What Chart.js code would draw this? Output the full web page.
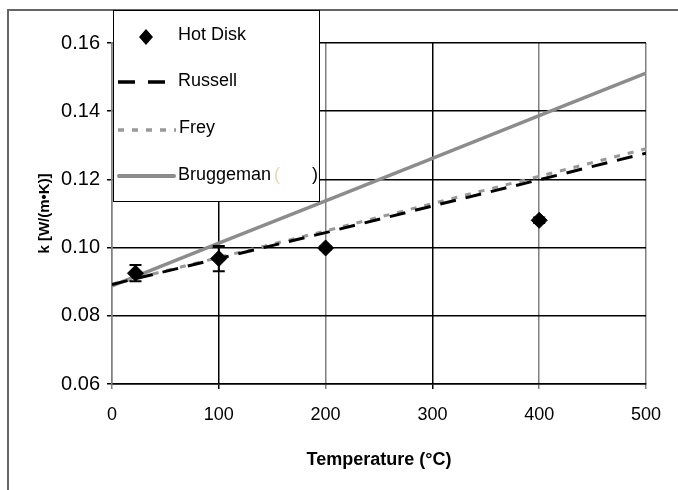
<!DOCTYPE html>
<html>
<head>
<meta charset="utf-8">
<script src="https://cdn.jsdelivr.net/npm/chart.js@4.4.1/dist/chart.umd.min.js"></script>
<style>
    html, body { margin: 0; padding: 0; background: #fff; }
    #wrap { width: 678px; height: 490px; }
</style>
</head>
<body>
<div id="wrap"><canvas id="kChart" width="678" height="490"></canvas></div>
<script>
// measured values (temperature in °C, k in W/(m·K))
const hotDiskTemp = [22, 100, 200, 400];
const hotDiskK = [0.0925, 0.0968, 0.0999, 0.1080];
const hotDiskErr = [0.0024, 0.0037, 0.0005, 0.0008];

// model curves
const modelTemp = [0, 100, 200, 300, 400, 500];
const russellK = [0.0892, 0.0968, 0.1044, 0.1122, 0.1199, 0.1277];
const freyK = [0.0893, 0.0971, 0.1049, 0.1129, 0.1209, 0.1290];
const bruggemanK = [0.0888, 0.1013, 0.1137, 0.1262, 0.1387, 0.1512];

const xTicks = [0, 100, 200, 300, 400, 500];
const yTicks = [0.06, 0.08, 0.10, 0.12, 0.14, 0.16];

function toPoints(xs, ys) {
    return xs.map((x, i) => ({ x: x, y: ys[i] }));
}

const GRAY = '#808080';
const FONT = "'Liberation Sans', Arial, sans-serif";

const framePlugin = {
    id: 'frame',
    beforeDraw(chart) {
        const ctx = chart.ctx;
        ctx.save();
        ctx.fillStyle = '#fff';
        ctx.fillRect(0, 0, chart.width, chart.height);
        ctx.strokeStyle = '#666';
        ctx.lineWidth = 2;
        ctx.beginPath();
        ctx.moveTo(chart.width, 10);
        ctx.lineTo(8, 10);
        ctx.lineTo(8, chart.height);
        ctx.stroke();
        ctx.restore();
    }
};

const errorBarPlugin = {
    id: 'errorBars',
    afterDatasetsDraw(chart) {
        const ctx = chart.ctx;
        const xs = chart.scales.x;
        const ys = chart.scales.y;
        ctx.save();
        ctx.strokeStyle = '#000';
        ctx.lineWidth = 2;
        hotDiskTemp.forEach((t, i) => {
            const px = xs.getPixelForValue(t);
            const top = ys.getPixelForValue(hotDiskK[i] + hotDiskErr[i]);
            const bot = ys.getPixelForValue(hotDiskK[i] - hotDiskErr[i]);
            ctx.beginPath();
            ctx.moveTo(px, top);
            ctx.lineTo(px, bot);
            ctx.moveTo(px - 6, top);
            ctx.lineTo(px + 6, top);
            ctx.moveTo(px - 6, bot);
            ctx.lineTo(px + 6, bot);
            ctx.stroke();
        });
        ctx.restore();
    }
};

const legendBoxPlugin = {
    id: 'legendBox',
    afterDraw(chart) {
        const ctx = chart.ctx;
        ctx.save();
        ctx.fillStyle = '#fff';
        ctx.fillRect(113, 10, 206, 192);
        ctx.strokeStyle = '#000';
        ctx.lineWidth = 1;
        ctx.strokeRect(113.5, 10.5, 206, 191);

        // Hot Disk marker
        ctx.fillStyle = '#000';
        ctx.beginPath();
        ctx.moveTo(146, 29);
        ctx.lineTo(153, 37);
        ctx.lineTo(146, 45);
        ctx.lineTo(139, 37);
        ctx.closePath();
        ctx.fill();

        ctx.lineWidth = 3.5;
        // Russell
        ctx.strokeStyle = '#000';
        ctx.setLineDash([17, 13]);
        ctx.beginPath();
        ctx.moveTo(118, 82);
        ctx.lineTo(170, 82);
        ctx.stroke();
        // Frey
        ctx.strokeStyle = '#999';
        ctx.setLineDash([6, 8]);
        ctx.beginPath();
        ctx.moveTo(118, 130);
        ctx.lineTo(176, 130);
        ctx.stroke();
        // Bruggeman
        ctx.strokeStyle = '#8c8c8c';
        ctx.lineWidth = 4;
        ctx.setLineDash([]);
        ctx.lineCap = 'round';
        ctx.beginPath();
        ctx.moveTo(119, 176);
        ctx.lineTo(174, 176);
        ctx.stroke();

        ctx.fillStyle = '#000';
        ctx.font = '18px ' + FONT;
        ctx.textBaseline = 'middle';
        ctx.textAlign = 'left';
        ctx.fillText('Hot Disk', 178, 35);
        ctx.fillText('Russell', 178, 81);
        ctx.fillText('Frey', 179, 128);
        ctx.fillText('Bruggeman', 178, 175);
        ctx.fillStyle = '#e8d8c0';
        ctx.fillText('(', 274, 175);
        ctx.fillStyle = '#000';
        ctx.fillText(')', 312, 175);
        ctx.restore();
    }
};

new Chart(document.getElementById('kChart'), {
    type: 'scatter',
    data: {
        datasets: [
            {
                label: 'Hot Disk',
                data: toPoints(hotDiskTemp, hotDiskK),
                pointStyle: 'rectRot',
                pointRadius: 8,
                backgroundColor: '#000',
                borderColor: '#000',
                showLine: false
            },
            {
                label: 'Russell',
                data: toPoints(modelTemp, russellK),
                showLine: true,
                pointRadius: 0,
                borderColor: '#000',
                borderWidth: 3,
                borderDash: [16, 10]
            },
            {
                label: 'Frey',
                data: toPoints(modelTemp, freyK),
                showLine: true,
                pointRadius: 0,
                borderColor: '#999',
                borderWidth: 3,
                borderDash: [6, 8]
            },
            {
                label: 'Bruggeman',
                data: toPoints(modelTemp, bruggemanK),
                showLine: true,
                pointRadius: 0,
                borderColor: '#8c8c8c',
                borderWidth: 3.5
            }
        ]
    },
    options: {
        responsive: false,
        animation: false,
        layout: { padding: { left: 0, top: 43, right: 32, bottom: 0 } },
        plugins: {
            legend: { display: false },
            tooltip: { enabled: false }
        },
        scales: {
            x: {
                type: 'linear',
                min: 0,
                max: 500,
                afterFit: (scale) => { scale.height = 106; },
                afterBuildTicks: (scale) => { scale.ticks = xTicks.map(v => ({ value: v })); },
                ticks: {
                    color: '#000',
                    padding: 15,
                    font: { family: FONT, size: 18 },
                    callback: (v) => String(v)
                },
                grid: {
                    color: (c) => (c.tick && (c.tick.value === 100 || c.tick.value === 300)) ? '#000' : GRAY,
                    lineWidth: 1.5,
                    tickLength: 5
                },
                border: { color: '#000', width: 1.5 },
                title: {
                    display: true,
                    text: 'Temperature (°C)',
                    color: '#000',
                    font: { family: FONT, size: 18, weight: 'bold' },
                    padding: { top: 0, bottom: 19 }
                }
            },
            y: {
                type: 'linear',
                min: 0.06,
                max: 0.16,
                afterFit: (scale) => { scale.width = 112; },
                afterBuildTicks: (scale) => { scale.ticks = yTicks.map(v => ({ value: v })); },
                ticks: {
                    color: '#000',
                    padding: 7,
                    font: { family: FONT, size: 20 },
                    callback: (v) => Number(v).toFixed(2)
                },
                grid: {
                    color: '#000',
                    lineWidth: 1.5,
                    tickLength: 5
                },
                border: { color: GRAY, width: 1.5 },
                title: {
                    display: true,
                    text: 'k [W/(m•K)]',
                    color: '#000',
                    font: { family: FONT, size: 15, weight: 'bold' },
                    padding: { top: 36, bottom: 0 }
                }
            }
        }
    },
    plugins: [framePlugin, errorBarPlugin, legendBoxPlugin]
});
</script>
</body>
</html>
